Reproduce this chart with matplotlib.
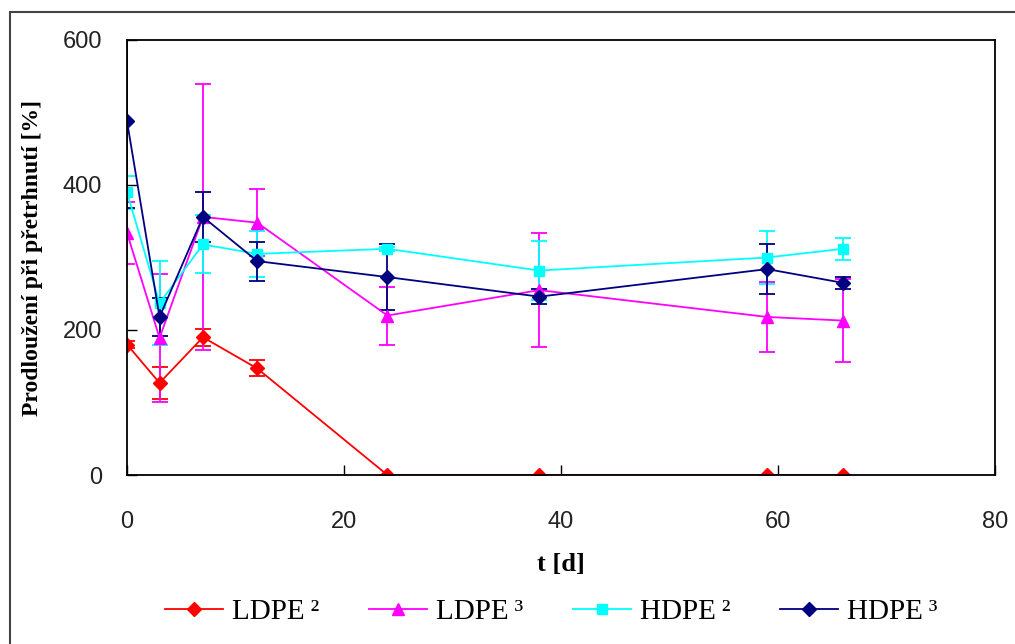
import matplotlib
matplotlib.use("Agg")
import matplotlib.pyplot as plt
from matplotlib.patches import Rectangle

t = [0, 3, 7, 12, 24, 38, 59, 66]

ldpe2 = [180, 127, 190, 147, 0, 0, 0, 0]
ldpe2_err = [5, 22, 12, 11, 0, 0, 0, 0]

ldpe3 = [334, 189, 356, 348, 220, 255, 218, 213]
ldpe3_err = [43, 88, 183, 46, 40, 79, 48, 57]

hdpe2 = [390, 237, 318, 305, 312, 282, 300, 312]
hdpe2_err = [23, 58, 40, 32, 3, 41, 36, 15]

hdpe3 = [488, 218, 356, 295, 273, 246, 284, 265]
hdpe3_err = [120, 26, 34, 27, 45, 10, 35, 8]

labels = ["LDPE\u2009\u00b2", "LDPE\u2009\u00b3", "HDPE\u2009\u00b2", "HDPE\u2009\u00b3"]

fig = plt.figure(figsize=(10.15, 6.44), dpi=100)
ax = fig.add_axes([127 / 1015, 1 - 475 / 644, (995 - 127) / 1015, (475 - 40) / 644])

# ---- series ---- #
series = [
    (ldpe2, ldpe2_err, "#FF0000", "D", 7),
    (ldpe3, ldpe3_err, "#FF00FF", "^", 9),
    (hdpe2, hdpe2_err, "#00FFFF", "s", 7),
    (hdpe3, hdpe3_err, "#000080", "D", 7),
]
handles = []
for (y, err, col, mk, ms), lab in zip(series, labels):
    c = ax.errorbar(t, y, yerr=err, color=col, marker=mk, markersize=ms,
                    linewidth=1.3, elinewidth=1.3, capsize=6, capthick=1.3,
                    label=lab)
    handles.append(c.lines[0])

ax.set_xlim(0, 80)
ax.set_ylim(0, 600)
ax.set_xticks([0, 20, 40, 60, 80])
ax.set_yticks([0, 200, 400, 600])
ax.tick_params(direction="in", length=7, width=1)
ax.tick_params(axis="x", pad=26)
ax.tick_params(axis="y", pad=18)
for lbl in ax.get_xticklabels() + ax.get_yticklabels():
    lbl.set_fontfamily("Liberation Sans")
    lbl.set_fontsize(17)
    lbl.set_color("#222222")
for s in ax.spines.values():
    s.set_linewidth(1.3)

ax.set_xlabel("t [d]", fontfamily="Liberation Serif", fontweight="bold",
              fontsize=19, labelpad=14)
ax.set_ylabel("Prodloužení při přetrhnutí [%]", fontfamily="Liberation Serif",
              fontweight="bold", fontsize=17, labelpad=14)

# ---- legend ---- #
fig.legend(handles, labels, loc="center", bbox_to_anchor=(0.543, 1 - 612 / 644),
           ncol=4, frameon=False, prop={"family": "Liberation Serif", "size": 21},
           handlelength=2.0, columnspacing=1.7, handletextpad=0.3)

# outer frame
fig.patches.append(Rectangle((10 / 1015, -0.05), 1.0, 1 - 12 / 644 + 0.05,
                             transform=fig.transFigure, fill=False,
                             edgecolor="#444444", linewidth=1.5))

fig.savefig("out.png", dpi=100)
